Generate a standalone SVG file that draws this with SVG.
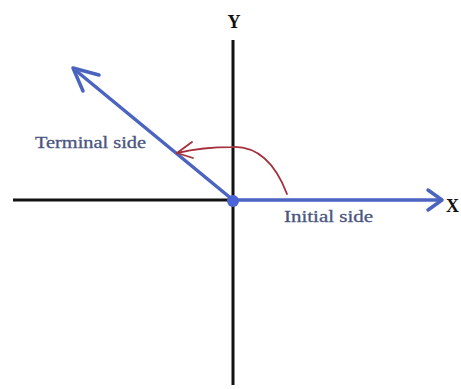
<svg xmlns="http://www.w3.org/2000/svg" width="461" height="389" viewBox="0 0 461 389">
<style>
.axis{stroke:#111;stroke-width:3;fill:none}
.side{stroke:#4a64c0;stroke-width:3.5;fill:none;stroke-linecap:round;stroke-linejoin:round}
.arc{stroke:#a3303c;stroke-width:1.8;fill:none;stroke-linecap:round;stroke-linejoin:round}
.lbl{font-family:"Liberation Serif","DejaVu Serif",serif;fill:#4a5680;font-size:16px;stroke:#4a5680;stroke-width:0.3}
.ax{font-family:"Liberation Serif","DejaVu Serif",serif;fill:#111;font-size:18px;font-weight:bold}
</style>
<rect width="461" height="389" fill="#fff"/>
<g id="axes">
<line class="axis" x1="13" y1="200" x2="233" y2="200"/>
<line class="axis" x1="233" y1="40" x2="233" y2="385"/>
</g>
<g id="initial-side">
<line class="side" x1="233" y1="200" x2="441" y2="200"/>
<polyline class="side" points="428,190 442,200 428,210"/>
</g>
<g id="terminal-side">
<line class="side" x1="233" y1="200" x2="74" y2="69"/>
<polyline class="side" points="99,75 73,68 83,91"/>
</g>
<g id="origin"><circle cx="233" cy="201" r="6" fill="#4a64d8"/></g>
<g id="connectors">
<path class="arc" d="M287,194 C274,160 255,146 232,147 C210,147 190,150 177,153"/>
<polyline class="arc" points="192,142 177,153 193,158"/>
</g>
<g id="labels">
<text class="ax" x="234" y="28" text-anchor="middle">Y</text>
<text class="ax" x="446" y="212" font-size="17">X</text>
<text class="lbl" x="35" y="148" textLength="111" lengthAdjust="spacingAndGlyphs">Terminal side</text>
<text class="lbl" x="284" y="222" textLength="89" lengthAdjust="spacingAndGlyphs">Initial side</text>
</g>
</svg>
